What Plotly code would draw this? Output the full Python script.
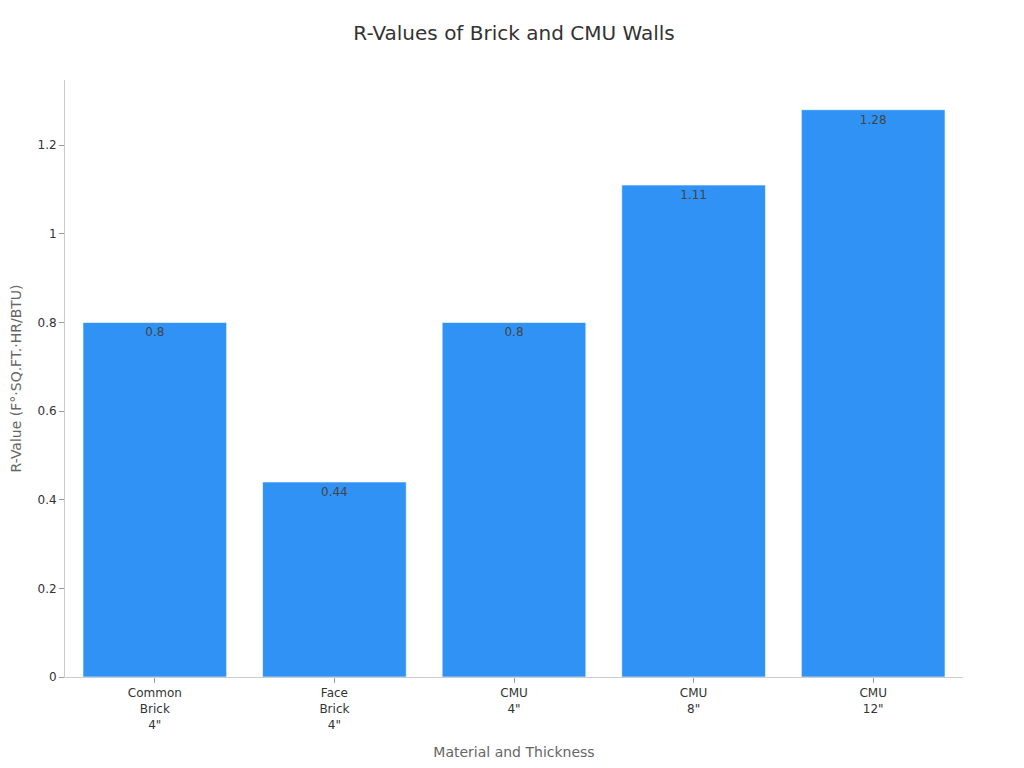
import plotly.graph_objects as go

categories = ["Common<br>Brick<br>4\"", "Face<br>Brick<br>4\"", "CMU<br>4\"", "CMU<br>8\"", "CMU<br>12\""]
r_values = [0.8, 0.44, 0.8, 1.11, 1.28]
value_labels = ["0.8", "0.44", "0.8", "1.11", "1.28"]

fig = go.Figure(go.Bar(
    x=categories,
    y=r_values,
    text=value_labels,
    textposition="inside",
    insidetextanchor="end",
    textfont=dict(color="#444444", size=12),
    marker=dict(color="#3092F5", line=dict(color="rgba(255,255,255,0.6)", width=1)),
    hoverinfo="x+y",
))

fig.update_layout(
    width=1024, height=768,
    font=dict(family="DejaVu Sans", color="#333333"),
    title=dict(text="R-Values of Brick and CMU Walls", x=0.5, xref="paper", xanchor="center",
               y=0.967, yanchor="middle",
               font=dict(size=20, color="#333333")),
    plot_bgcolor="white", paper_bgcolor="white",
    margin=dict(l=57, r=69, t=72, b=99),
    bargap=0.2,
    showlegend=False,
    xaxis=dict(
        title=dict(text="Material and Thickness", font=dict(size=14, color="#666666"), standoff=16),
        showline=True, linecolor="#cccccc", linewidth=1,
        ticks="outside", tickcolor="#999999", ticklen=5,
        tickfont=dict(size=12, color="#333333"),
        showgrid=False,
    ),
    yaxis=dict(
        title=dict(text="R-Value (F°·SQ.FT.·HR/BTU)", font=dict(size=14, color="#666666"), standoff=28),
        automargin=False,
        range=[0, 1.347],
        showline=True, linecolor="#cccccc", linewidth=1,
        ticks="outside", tickcolor="#999999", ticklen=5,
        tickfont=dict(size=12, color="#333333"),
        showgrid=False, zeroline=False,
        dtick=0.2,
    ),
)

fig.write_html("out.html")
